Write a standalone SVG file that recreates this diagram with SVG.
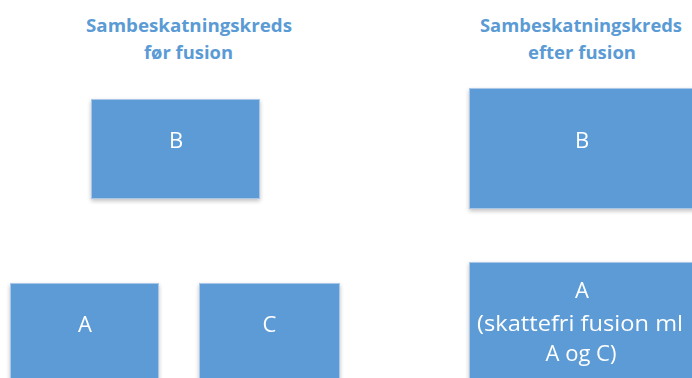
<svg xmlns="http://www.w3.org/2000/svg" width="692" height="378" viewBox="0 0 692 378">
  <style>
    .title { font-family: "Open Sans", "Liberation Sans", sans-serif; font-weight: bold; font-size: 18.5px; fill: #5B9BD5; text-anchor: middle; }
    .box { fill: #5B9BD5; stroke: #A9C7E8; stroke-width: 1; }
    .label { font-family: "Open Sans", "Liberation Sans", sans-serif; font-size: 22px; fill: #FFFFFF; text-anchor: middle; }
  </style>
  <defs>
    <filter id="shadow" x="-10%" y="-10%" width="120%" height="130%">
      <feGaussianBlur in="SourceAlpha" stdDeviation="2"/>
      <feOffset dy="2" result="b"/>
      <feComponentTransfer><feFuncA type="linear" slope="0.25"/></feComponentTransfer>
      <feMerge><feMergeNode/><feMergeNode in="SourceGraphic"/></feMerge>
    </filter>
  </defs>
  <rect width="692" height="378" fill="#FFFFFF"/>

  <g id="title-before">
    <text class="title" x="189" y="32" textLength="206" lengthAdjust="spacingAndGlyphs">Sambeskatningskreds</text>
    <text class="title" x="188.5" y="58.5" textLength="89" lengthAdjust="spacingAndGlyphs">før fusion</text>
  </g>
  <g id="title-after">
    <text class="title" x="581" y="32" textLength="202" lengthAdjust="spacingAndGlyphs">Sambeskatningskreds</text>
    <text class="title" x="582" y="58.5">efter fusion</text>
  </g>

  <g id="node-b-before" filter="url(#shadow)">
    <rect class="box" x="91.5" y="99.5" width="168" height="99"/>
    <text class="label" x="176" y="147.5">B</text>
  </g>
  <g id="node-a-before" filter="url(#shadow)">
    <rect class="box" x="10.5" y="283.5" width="148" height="100"/>
    <text class="label" x="85" y="332">A</text>
  </g>
  <g id="node-c-before" filter="url(#shadow)">
    <rect class="box" x="199.5" y="283.5" width="140" height="100"/>
    <text class="label" x="269.5" y="332">C</text>
  </g>

  <g id="node-b-after" filter="url(#shadow)">
    <rect class="box" x="469.5" y="88.5" width="226" height="120"/>
    <text class="label" x="582" y="148">B</text>
  </g>
  <g id="node-a-after" filter="url(#shadow)">
    <rect class="box" x="469.5" y="262.5" width="226" height="125"/>
    <text class="label" x="582" y="297.5">A</text>
    <text class="label" x="580" y="331" textLength="206" lengthAdjust="spacingAndGlyphs">(skattefri fusion ml</text>
    <text class="label" x="581" y="361">A og C)</text>
  </g>

  <g id="connectors"></g>
</svg>
